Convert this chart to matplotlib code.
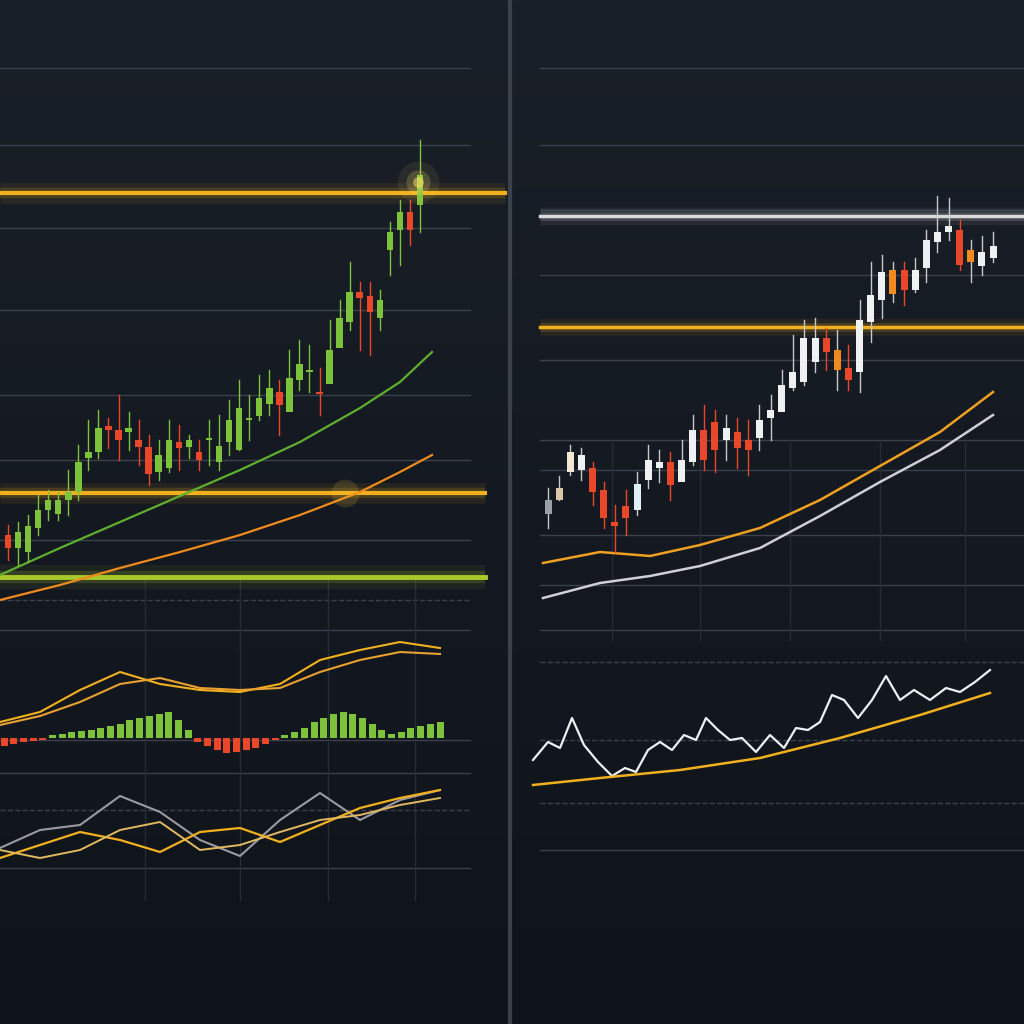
import numpy as np
import matplotlib.pyplot as plt

BG = '#141922'
GRID = '#3a414c'
GOLD = '#f2b01e'
GREEN = '#7cc23a'
RED = '#e8472a'
ORANGE = '#f08a1c'
WHITE = '#eef0f2'

# ---- left panel candles (pixel coords) ----
l_open  = [535,548,552,528,510,514,500,492,458,452,426,430,432,440,447,472,468,442,447,452,440,462,442,450,420,416,404,392,412,380,372,392,384,348,322,292,296,318,250,230,212,205]
l_close = [548,532,526,510,500,500,492,462,452,428,430,440,428,447,474,455,440,448,440,460,438,446,420,408,418,398,388,405,378,364,370,394,350,318,292,298,312,300,232,212,230,175]
l_high  = [525,522,515,495,490,492,470,445,420,410,418,395,412,420,435,440,420,425,435,440,420,415,400,380,395,375,370,380,350,340,345,368,320,300,262,282,282,290,222,200,200,140]
l_low   = [560,565,562,535,520,520,515,500,470,458,448,460,450,465,485,480,472,470,458,470,465,470,455,450,440,420,415,435,400,390,392,415,380,345,330,350,355,330,275,265,245,232]

# ---- right panel candles ----
r_open  = [500,500,472,455,468,490,522,518,510,480,468,462,482,462,430,422,440,432,450,438,418,412,388,382,362,338,350,368,372,322,300,294,270,290,268,242,232,230,250,266,258]
r_close = [514,488,452,470,492,518,526,506,484,460,462,485,460,430,460,450,428,448,440,420,410,385,372,338,338,352,370,380,320,295,272,270,290,270,240,232,226,265,262,252,246]
r_high  = [488,476,445,448,462,482,505,490,472,445,450,452,440,415,405,410,415,418,420,405,395,370,335,320,318,328,330,345,300,262,255,262,262,258,230,196,198,220,240,236,232]
r_low   = [528,500,475,480,505,528,552,535,515,488,482,500,480,465,470,472,460,468,475,450,440,400,390,385,372,370,390,390,392,342,318,302,305,292,282,252,240,270,282,275,262]
r_color = ['#9aa0a8','#d9c6a6','#f0e6d2',WHITE,RED,RED,RED,RED,'#dff0f8',WHITE,WHITE,RED,WHITE,WHITE,RED,RED,WHITE,RED,RED,WHITE,WHITE,WHITE,WHITE,WHITE,WHITE,RED,ORANGE,RED,WHITE,WHITE,WHITE,ORANGE,RED,WHITE,WHITE,WHITE,WHITE,RED,ORANGE,WHITE,WHITE]

# ---- moving averages ----
l_ma_x = [0,60,120,180,240,300,360,400,432]
l_ma_green = [575,548,522,496,470,442,408,382,352]
l_ma_orange = [600,585,568,552,535,515,492,472,455]
r_ma_x = [543,600,650,700,760,820,880,940,993]
r_ma_orange = [563,552,556,545,528,500,466,432,392]
r_ma_white = [598,583,576,566,548,516,482,450,415]

# ---- left oscillators ----
osc_x = [0,40,80,120,160,200,240,280,320,360,400,440]
osc_a = [722,712,690,672,684,690,692,684,660,650,642,648]
osc_b = [725,716,702,684,678,688,690,688,672,660,652,654]
hist_v = [-8,-6,-4,-3,-2,3,4,6,7,8,10,12,14,18,20,22,24,26,18,8,-4,-8,-12,-15,-14,-12,-10,-6,-2,3,6,10,16,20,24,26,24,20,14,8,4,6,10,12,14,16]
bot_x = [0,40,80,120,160,200,240,280,320,360,400,440]
bot_grey = [848,830,825,796,812,840,856,820,793,820,800,790]
bot_gold1 = [858,845,832,840,852,832,828,842,825,808,798,790]
bot_gold2 = [850,858,850,830,822,850,845,832,820,815,805,798]

# ---- right lower panel ----
rl_x = [533,548,560,572,584,598,612,625,636,648,660,672,684,696,706,718,730,742,756,770,784,796,808,820,832,844,858,872,886,900,914,930,946,960,975,990]
rl_white = [760,742,748,718,745,762,776,768,772,750,742,750,735,740,718,730,740,738,752,735,748,728,730,722,695,700,718,700,676,700,690,700,688,692,682,670]
rl_gold_x = [533,600,680,760,840,920,990]
rl_gold = [785,778,770,758,738,715,693]

fig = plt.figure(figsize=(10.24, 10.24), dpi=100, facecolor=BG)
ax = fig.add_axes([0, 0, 1, 1])
ax.set_facecolor(BG)
ax.set_xlim(0, 1024)
ax.set_ylim(1024, 0)
ax.axis('off')

# background gradient
grad = np.linspace(0, 1, 256).reshape(-1, 1)
ax.imshow(grad, extent=[0, 1024, 1024, 0], cmap=plt.matplotlib.colors.LinearSegmentedColormap.from_list('g', ['#1a2029', '#0f131a']), aspect='auto', zorder=0)

# divider
ax.plot([510, 510], [0, 1024], color='#3b414b', lw=3, zorder=1)

# grid lines
for y, ls in [(68,'-'),(145,'-'),(228,'-'),(310,'-'),(395,'-'),(460,'-'),(540,'-'),(600,'--'),(630,'-'),(740,'-'),(773,'-'),(810,'--'),(868,'-')]:
    ax.plot([0, 470], [y, y], color=GRID, lw=1, ls=ls, zorder=1)
for y, ls in [(68,'-'),(145,'-'),(210,'-'),(275,'-'),(360,'-'),(440,'-'),(470,'-'),(535,'-'),(585,'-'),(630,'-'),(662,'--'),(740,'--'),(803,'--'),(850,'-')]:
    ax.plot([540, 1024], [y, y], color=GRID, lw=1, ls=ls, zorder=1)
for x in [145, 240, 328, 415]:
    ax.plot([x, x], [580, 900], color='#262c35', lw=1, zorder=1)
for x in [612, 700, 790, 880, 965]:
    ax.plot([x, x], [440, 640], color='#262c35', lw=1, zorder=1)

def glow_line(xs, ys, color, lw):
    for w, a in [(lw*5, 0.08), (lw*2.5, 0.18)]:
        ax.plot(xs, ys, color=color, lw=w, alpha=a, solid_capstyle='butt', zorder=2)
    ax.plot(xs, ys, color=color, lw=lw, zorder=3)

glow_line([0, 505], [193, 193], GOLD, 3)
glow_line([0, 485], [493, 493], GOLD, 3)
glow_line([0, 485], [577, 577], '#a8c92a', 3.5)
glow_line([540, 1024], [216, 216], '#d8d8d8', 2.5)
glow_line([540, 1024], [327, 327], GOLD, 2.5)

# candles
lx = np.linspace(8, 420, len(l_open))
for x, o, c, h, l in zip(lx, l_open, l_close, l_high, l_low):
    col = GREEN if c < o else RED
    ax.plot([x, x], [h, l], color=col, lw=1, zorder=4)
    ax.bar(x, abs(o - c) or 2, bottom=min(o, c), width=6.5, color=col, zorder=5)
rx = np.linspace(548, 993, len(r_open))
for x, o, c, h, l, col in zip(rx, r_open, r_close, r_high, r_low, r_color):
    ax.plot([x, x], [h, l], color='#c8c8c8' if col != RED else RED, lw=1, zorder=4)
    ax.bar(x, abs(o - c) or 2, bottom=min(o, c), width=7, color=col, zorder=5)

# glow at top candle
for s, a in [(900, 0.08), (300, 0.2), (60, 0.5)]:
    ax.scatter([418], [182], s=s, color='#ffe36a', alpha=a, zorder=6, lw=0)
ax.scatter([345], [493], s=400, color='#ffcc40', alpha=0.15, zorder=6, lw=0)

# moving averages
ax.plot(l_ma_x, l_ma_green, color='#5fae2e', lw=1.6, zorder=3)
ax.plot(l_ma_x, l_ma_orange, color=ORANGE, lw=1.6, zorder=3)
ax.plot(r_ma_x, r_ma_orange, color='#f0a020', lw=1.8, zorder=3)
ax.plot(r_ma_x, r_ma_white, color='#d0d0d4', lw=1.8, zorder=3)

# left oscillators
ax.plot(osc_x, osc_a, color=GOLD, lw=1.5, zorder=3)
ax.plot(osc_x, osc_b, color='#e8a030', lw=1.5, zorder=3)
hist_x = np.linspace(4, 440, len(hist_v))
for x, v in zip(hist_x, hist_v):
    ax.bar(x, -v, bottom=738, width=7, color=GREEN if v > 0 else RED, zorder=3)
ax.plot(bot_x, bot_grey, color='#9a9aa0', lw=1.5, zorder=3)
ax.plot(bot_x, bot_gold1, color=GOLD, lw=1.6, zorder=3)
ax.plot(bot_x, bot_gold2, color='#e0b860', lw=1.4, zorder=3)

# right lower panel
ax.plot(rl_x, rl_white, color=WHITE, lw=1.6, zorder=3)
ax.plot(rl_gold_x, rl_gold, color=GOLD, lw=1.8, zorder=3)

fig.savefig('out.png', dpi=100, facecolor=BG)
